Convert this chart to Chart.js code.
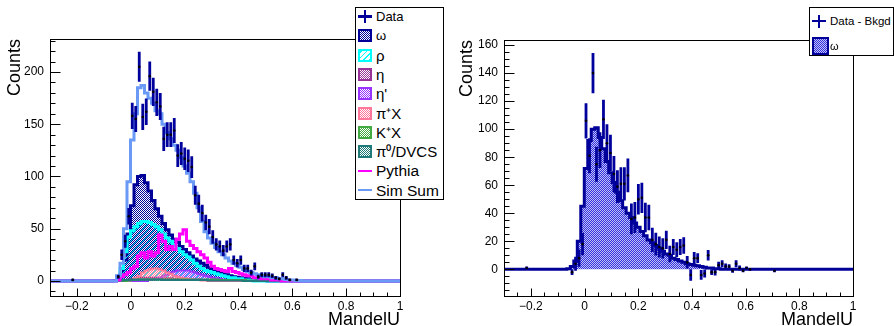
<!DOCTYPE html>
<html>
<head>
<meta charset="utf-8">
<title>MandelU</title>
<script src="https://cdn.jsdelivr.net/npm/chart.js@4.4.1/dist/chart.umd.min.js"></script>
<style>
  body { margin: 0; background: #fff; font-family: 'Liberation Sans', Arial, sans-serif; }
  #wrap { position: relative; width: 894px; height: 326px; overflow: hidden; background: #fff; }
  #wrap canvas { position: absolute; top: 0; }
  #left-chart { left: 0; }
  #right-chart { left: 447px; }
  .legend { position: absolute; background: #fff; border: 1px solid #000; box-sizing: border-box; }
  .entry { position: absolute; left: 0; width: 100%; }
  .entry span { position: absolute; top: 0; white-space: nowrap; color: #000; }
  .sw { position: absolute; box-sizing: border-box; }
</style>
</head>
<body>
<div id="wrap">
  <canvas id="left-chart" width="447" height="326"></canvas>
  <canvas id="right-chart" width="447" height="326"></canvas>
  <div class="legend" id="left-legend" style="left:355px; top:7px; width:89px; height:193px;"></div>
  <div class="legend" id="right-legend" style="left:809px; top:7px; width:85px; height:49px;"></div>
</div>
<script>
// binning of MandelU: 100 bins from -0.3 to 1.0
const binLow = -0.3;
const binWidth = 0.013;

const xTickValues = [-0.2, 0, 0.2, 0.4, 0.6, 0.8, 1];
const leftYTicks = [0, 50, 100, 150, 200];
const rightYTicks = [0, 20, 40, 60, 80, 100, 120, 140, 160];

// left pad: data and simulated components (counts per bin)
const dataCounts = [
  null, null, null, null, null, null, 1, null, null, null,
  null, null, null, null, null, null, null, null, null, 4,
  25, 38, 62, 158, 155, 205, 157, 162, 196, 181,
  171, 167, 136, 140, 140, 144, 120, 122, 117, 115,
  109, 82, 74, 65, 56, 52, 42, 35, 33, 29,
  33, 35, 20, 17, 20, 12, 12, 8, 14, 4,
  6, 6, 6, 5, 3, 2, 6, 3, 1, null,
  1, null, null, null, null, null, null, null, null, null,
  null, null, null, null, null, null, null, null, null, null,
  null, null, null, null, null, null, null, null, null, null
];
const simSum = [
  0, 0, 0, 0, 0, 0, 0, 0, 0, 0,
  0, 0, 0, 0, 0, 0, 0, 0, 0, 5,
  17, 50, 95, 135, 160, 185, 187, 180, 175, 170,
  163, 160, 150, 142, 136, 130, 125, 118, 110, 103,
  95, 84, 70, 57, 47, 41, 36, 32, 28, 25,
  22, 19, 17, 15, 13, 11, 9, 8, 7, 6,
  5, 4, 4, 3, 3, 2, 2, 1.5, 1, 1,
  0.5, 0.5, 0, 0, 0, 0, 0, 0, 0, 0,
  0, 0, 0, 0, 0, 0, 0, 0, 0, 0,
  0, 0, 0, 0, 0, 0, 0, 0, 0, 0
];
const omega = [
  0, 0, 0, 0, 0, 0, 0, 0, 0, 0,
  0, 0, 0, 0, 0, 0, 0, 0, 0.5, 2,
  6, 20, 45, 72, 92, 100, 101, 94, 86, 77,
  69, 62, 55, 49, 44, 40, 37, 33, 30, 27,
  24, 21, 19, 17, 15, 13, 11, 10, 8, 7,
  6, 5, 4, 3.5, 3, 2.5, 2, 1.5, 1, 1,
  0.5, 0.5, 0, 0, 0, 0, 0, 0, 0, 0,
  0, 0, 0, 0, 0, 0, 0, 0, 0, 0,
  0, 0, 0, 0, 0, 0, 0, 0, 0, 0,
  0, 0, 0, 0, 0, 0, 0, 0, 0, 0
];
const rho = [
  0, 0, 0, 0, 0, 0, 0, 0, 0, 0,
  0, 0, 0, 0, 0, 0, 0, 0, 0, 3,
  12, 28, 42, 48, 52, 55, 57, 57, 56, 54,
  52, 49, 45, 41, 38, 34, 31, 28, 25, 23,
  20, 17, 14, 12, 10, 9, 8, 7, 6, 5,
  4, 3, 3, 2, 2, 1, 1, 0.5, 0, 0,
  0, 0, 0, 0, 0, 0, 0, 0, 0, 0,
  0, 0, 0, 0, 0, 0, 0, 0, 0, 0,
  0, 0, 0, 0, 0, 0, 0, 0, 0, 0,
  0, 0, 0, 0, 0, 0, 0, 0, 0, 0
];
const eta = [
  0, 0, 0, 0, 0, 0, 0, 0, 0, 0,
  0, 0, 0, 0, 0, 0, 0, 0, 0, 0,
  0.5, 1, 1.5, 2, 2.5, 3, 3, 3, 3, 3,
  3, 3, 2.5, 2.5, 2.5, 2, 2, 2, 2, 1.5,
  1.5, 1.5, 1.5, 1, 1, 1, 1, 1, 0.5, 0.5,
  0.5, 0, 0, 0, 0, 0, 0, 0, 0, 0,
  0, 0, 0, 0, 0, 0, 0, 0, 0, 0,
  0, 0, 0, 0, 0, 0, 0, 0, 0, 0,
  0, 0, 0, 0, 0, 0, 0, 0, 0, 0,
  0, 0, 0, 0, 0, 0, 0, 0, 0, 0
];
const etaPrime = [
  0, 0, 0, 0, 0, 0, 0, 0, 0, 0,
  0, 0, 0, 0, 0, 0, 0, 0, 0, 0,
  0, 0, 0, 0, 0, 0, 0, 0, 1, 1.5,
  2, 3, 5, 6, 8, 9, 10, 10, 10, 10,
  9, 8, 7, 6, 5, 4, 3, 2.5, 2, 1.5,
  1, 0.5, 0, 0, 0, 0, 0, 0, 0, 0,
  0, 0, 0, 0, 0, 0, 0, 0, 0, 0,
  0, 0, 0, 0, 0, 0, 0, 0, 0, 0,
  0, 0, 0, 0, 0, 0, 0, 0, 0, 0,
  0, 0, 0, 0, 0, 0, 0, 0, 0, 0
];
const piPlusX = [
  0, 0, 0, 0, 0, 0, 0, 0, 0, 0,
  0, 0, 0, 0, 0, 0, 0, 0, 0, 0,
  0, 0, 0.5, 1, 3, 5, 8, 10, 11, 12,
  12, 11, 10, 8, 7, 5, 4, 3, 2.5, 2,
  1.5, 1, 1, 0.5, 0.5, 0, 0, 0, 0, 0,
  0, 0, 0, 0, 0, 0, 0, 0, 0, 0,
  0, 0, 0, 0, 0, 0, 0, 0, 0, 0,
  0, 0, 0, 0, 0, 0, 0, 0, 0, 0,
  0, 0, 0, 0, 0, 0, 0, 0, 0, 0,
  0, 0, 0, 0, 0, 0, 0, 0, 0, 0
];
const kPlusX = [
  0, 0, 0, 0, 0, 0, 0, 0, 0, 0,
  0, 0, 0, 0, 0, 0, 0, 0, 0, 0,
  0, 0, 0.5, 1, 1, 1.5, 1.5, 1.5, 1.5, 1.5,
  1.5, 1.5, 1.5, 1.5, 1.5, 1.5, 1.5, 1.5, 1.5, 1.5,
  1.5, 1.5, 1.5, 1.5, 1.5, 1.5, 1.5, 1.5, 1, 1,
  1, 1, 1, 1, 1, 1, 0.5, 0.5, 0.5, 0.5,
  0.5, 0, 0, 0, 0, 0, 0, 0, 0, 0,
  0, 0, 0, 0, 0, 0, 0, 0, 0, 0,
  0, 0, 0, 0, 0, 0, 0, 0, 0, 0,
  0, 0, 0, 0, 0, 0, 0, 0, 0, 0
];
const piZeroDvcs = [
  0, 0, 0, 0, 0, 0, 0, 0, 0, 0,
  0, 0, 0, 0, 0, 0, 0, 0, 0, 0,
  0.5, 1, 1, 1.5, 1.5, 1.5, 1.5, 1.5, 1.5, 1.5,
  1.5, 1.5, 1, 1, 1, 1, 1, 1, 1, 1,
  1, 1, 1, 1, 1, 0.5, 0.5, 0.5, 0.5, 0.5,
  0.5, 0.5, 0.5, 0.5, 0.5, 0, 0, 0, 0, 0,
  0, 0, 0, 0, 0, 0, 0, 0, 0, 0,
  0, 0, 0, 0, 0, 0, 0, 0, 0, 0,
  0, 0, 0, 0, 0, 0, 0, 0, 0, 0,
  0, 0, 0, 0, 0, 0, 0, 0, 0, 0
];
const pythia = [
  0, 0, 0, 0, 0, 0, 0, 0, 0, 0,
  0, 0, 0, 0, 0, 0, 0, 0, 0, 1,
  4, 6, 8, 12, 14, 24, 27, 22, 28, 24,
  27, 44, 38, 30, 33, 30, 40, 45, 49, 38,
  34, 31, 28, 25, 22, 18, 14, 12, 11, 10,
  9, 12, 9, 8, 7, 6, 5, 5, 3, 3,
  2, 2, 2, 1, 1, 1, 0, 0, 0, 0,
  0, 0, 0, 0, 0, 0, 0, 0, 0, 0,
  0, 0, 0, 0, 0, 0, 0, 0, 0, 0,
  0, 0, 0, 0, 0, 0, 0, 0, 0, 0
];

// right pad: data minus background
const subtracted = [
  null, null, null, null, null, null, 1, null, null, null,
  null, null, null, null, null, null, null, null, null, -2,
  4, 8, 18, 106, 81, 140, 75, 85, 107, 90,
  83, 68, 59, 61, 61, 67, 36, 37, 50, 51,
  37, 37, 21, 18, 16, 15, 21, 11, 16, 14,
  16, 17, 5, -4, 8, 8, -4, -3, 10, -2,
  -2, 3, 4, 2, 2, -1, 4, 1, -1, 1,
  0, null, null, null, null, null, null, -1, null, null,
  null, null, null, null, null, null, null, null, null, null,
  null, null, null, null, null, null, null, null, null, null
];

const navy = '#000099';
const colors = {
  omega: navy,
  rho: '#00ffff',
  eta: '#993399',
  etaPrime: '#9933ff',
  piPlusX: '#ff7799',
  kPlusX: '#44aa44',
  piZero: '#207a7a',
  pythia: '#ff00ff',
  simSum: '#6a9af5'
};

function histPoints(values) {
  // left bin edges, plus closing edge, drawn with stepped 'before'
  const pts = values.map((v, i) => ({ x: binLow + i * binWidth, y: v }));
  pts.push({ x: binLow + values.length * binWidth, y: values[values.length - 1] });
  return pts;
}

function centerPoints(values) {
  return values.map((v, i) => ({ x: binLow + (i + 0.5) * binWidth, y: v }));
}

function checkerPattern(color, back) {
  const tile = document.createElement('canvas');
  tile.width = 2;
  tile.height = 2;
  const c = tile.getContext('2d');
  if (back) {
    c.fillStyle = back;
    c.fillRect(0, 0, 2, 2);
  }
  c.fillStyle = color;
  c.fillRect(0, 0, 1, 1);
  c.fillRect(1, 1, 1, 1);
  return c.createPattern(tile, 'repeat');
}

function hatchPattern(color) {
  const tile = document.createElement('canvas');
  tile.width = 6;
  tile.height = 6;
  const c = tile.getContext('2d');
  c.strokeStyle = color;
  c.lineWidth = 1;
  c.beginPath();
  c.moveTo(0, 6);
  c.lineTo(6, 0);
  c.moveTo(-1, 1);
  c.lineTo(1, -1);
  c.moveTo(5, 7);
  c.lineTo(7, 5);
  c.stroke();
  return c.createPattern(tile, 'repeat');
}

function histDataset(values, color, width, fill) {
  return {
    data: histPoints(values),
    borderColor: color,
    borderWidth: width,
    backgroundColor: fill || 'transparent',
    fill: fill ? 'origin' : false,
    stepped: 'before',
    pointRadius: 0,
    tension: 0
  };
}

function dataDataset(values, errors) {
  return {
    data: centerPoints(values),
    errors: errors,
    showLine: false,
    borderColor: '#00009c',
    pointRadius: 1.3,
    pointBorderWidth: 0,
    pointBackgroundColor: '#000'
  };
}

const errorBars = {
  id: 'errorBars',
  beforeDatasetDraw(chart, args) {
    const ds = chart.data.datasets[args.index];
    if (!ds.errors) return;
    const { ctx, chartArea: a, scales: { x, y } } = chart;
    ctx.save();
    ctx.beginPath();
    ctx.rect(a.left, a.top, a.right - a.left, a.bottom - a.top);
    ctx.clip();
    ctx.strokeStyle = ds.borderColor;
    ctx.lineWidth = 2.8;
    ctx.beginPath();
    ds.data.forEach((p, i) => {
      if (p.y === null) return;
      const e = ds.errors[i];
      const px = x.getPixelForValue(p.x);
      ctx.moveTo(px, y.getPixelForValue(p.y - e));
      ctx.lineTo(px, y.getPixelForValue(p.y + e));
    });
    ctx.stroke();
    ctx.restore();
  }
};

const frameTicks = {
  id: 'frameTicks',
  afterDatasetsDraw(chart, args, opts) {
    const { ctx, chartArea: a, scales: { x, y } } = chart;
    const l = Math.round(a.left) + 0.5, r = Math.round(a.right) + 0.5;
    const t = Math.round(a.top) + 0.5, b = Math.round(a.bottom) + 0.5;
    ctx.save();
    ctx.strokeStyle = '#000';
    ctx.lineWidth = 1;
    ctx.strokeRect(l, t, r - l, b - t);
    ctx.beginPath();
    for (let k = Math.ceil(x.min / opts.xMinor - 1e-6); k * opts.xMinor <= x.max + 1e-9; k++) {
      const px = Math.round(x.getPixelForValue(k * opts.xMinor)) + 0.5;
      ctx.moveTo(px, b);
      ctx.lineTo(px, b - 4);
    }
    x.ticks.forEach(tk => {
      const px = Math.round(x.getPixelForValue(tk.value)) + 0.5;
      ctx.moveTo(px, b);
      ctx.lineTo(px, b - 8);
    });
    for (let k = Math.ceil(y.min / opts.yMinor - 1e-6); k * opts.yMinor <= y.max + 1e-9; k++) {
      const py = Math.round(y.getPixelForValue(k * opts.yMinor)) + 0.5;
      ctx.moveTo(l, py);
      ctx.lineTo(l + 5, py);
    }
    y.ticks.forEach(tk => {
      const py = Math.round(y.getPixelForValue(tk.value)) + 0.5;
      ctx.moveTo(l, py);
      ctx.lineTo(l + 10, py);
    });
    ctx.stroke();
    ctx.restore();
  }
};

function formatX(v) {
  const r = Math.round(v * 10) / 10;
  return (r < 0 ? '\u2212' : '') + Math.abs(r);
}

function makeOptions(pad, yWidth, yMin, yMax, yTicks, yMinor) {
  return {
    responsive: false,
    animation: false,
    events: [],
    layout: { padding: pad },
    plugins: {
      legend: { display: false },
      tooltip: { enabled: false },
      frameTicks: { xMinor: 0.05, yMinor: yMinor }
    },
    scales: {
      x: {
        type: 'linear',
        min: -0.3,
        max: 1,
        afterBuildTicks: s => { s.ticks = xTickValues.map(v => ({ value: v })); },
        afterFit: s => { s.height = 30; },
        grid: { display: false, drawTicks: false },
        border: { display: false },
        ticks: {
          autoSkip: false,
          maxRotation: 0,
          padding: 3,
          color: '#000',
          font: { family: 'Liberation Sans', size: 12 },
          callback: v => formatX(v)
        },
        title: {
          display: true,
          text: 'MandelU',
          align: 'end',
          color: '#000',
          padding: { top: 0, bottom: -5 },
          font: { family: 'Liberation Sans', size: 18 }
        }
      },
      y: {
        type: 'linear',
        min: yMin,
        max: yMax,
        afterBuildTicks: s => { s.ticks = yTicks.map(v => ({ value: v })); },
        afterFit: s => { s.width = yWidth; },
        grid: { display: false, drawTicks: false },
        border: { display: false },
        ticks: {
          autoSkip: false,
          padding: 6,
          color: '#000',
          font: { family: 'Liberation Sans', size: 12 }
        },
        title: {
          display: true,
          text: 'Counts',
          align: 'end',
          color: '#000',
          padding: { top: 4, bottom: 0 },
          font: { family: 'Liberation Sans', size: 18 }
        }
      }
    }
  };
}

function drawLeft() {
  const ctx = document.getElementById('left-chart').getContext('2d');
  const errors = dataCounts.map(v => (v === null ? 0 : Math.sqrt(v)));
  new Chart(ctx, {
    type: 'line',
    data: {
      datasets: [
        dataDataset(dataCounts, errors),
        histDataset(simSum, colors.simSum, 3),
        histDataset(pythia, colors.pythia, 3),
        histDataset(piZeroDvcs, colors.piZero, 2, checkerPattern(colors.piZero)),
        histDataset(kPlusX, colors.kPlusX, 2, checkerPattern(colors.kPlusX)),
        histDataset(piPlusX, colors.piPlusX, 2, checkerPattern(colors.piPlusX)),
        histDataset(etaPrime, colors.etaPrime, 2, checkerPattern(colors.etaPrime)),
        histDataset(eta, colors.eta, 2, checkerPattern(colors.eta)),
        histDataset(rho, colors.rho, 3, hatchPattern(colors.rho)),
        histDataset(omega, colors.omega, 3, checkerPattern(colors.omega))
      ]
    },
    options: makeOptions({ top: 39, right: 47, left: 0, bottom: 0 }, 50, -14.4, 231.6, leftYTicks, 10),
    plugins: [errorBars, frameTicks]
  });
}

function drawRight() {
  const ctx = document.getElementById('right-chart').getContext('2d');
  const errors = subtracted.map((v, i) => (dataCounts[i] === null ? 1 : Math.sqrt(dataCounts[i])));
  new Chart(ctx, {
    type: 'line',
    data: {
      datasets: [
        dataDataset(subtracted, errors),
        histDataset(omega, navy, 3, checkerPattern('#3030e0', '#c4c4f4'))
      ]
    },
    options: makeOptions({ top: 40, right: 41, left: 5, bottom: 0 }, 52, -19, 163.6, rightYTicks, 5),
    plugins: [errorBars, frameTicks]
  });
}

// legend entries: kind is cross, box, hatch or line
const leftLegendEntries = [
  { label: 'Data', kind: 'cross', color: navy, size: 13 },
  { label: 'ω', kind: 'box', color: colors.omega, size: 13 },
  { label: 'ρ', kind: 'hatch', color: colors.rho, size: 15 },
  { label: 'η', kind: 'box', color: colors.eta, size: 15 },
  { label: "η'", kind: 'box', color: colors.etaPrime, size: 15 },
  { label: 'π⁺X', kind: 'box', color: colors.piPlusX, size: 15 },
  { label: 'K⁺X', kind: 'box', color: colors.kPlusX, size: 15 },
  { label: 'π⁰/DVCS', kind: 'box', color: colors.piZero, size: 15 },
  { label: 'Pythia', kind: 'line', color: colors.pythia, size: 15.5 },
  { label: 'Sim Sum', kind: 'line', color: colors.simSum, size: 15.5 }
];
const rightLegendEntries = [
  { label: 'Data - Bkgd', kind: 'cross', color: navy, size: 11.5 },
  { label: 'ω', kind: 'bigbox', color: navy, size: 11 }
];

function addSwatch(row, entry, h) {
  const mid = h / 2;
  const add = css => {
    const d = document.createElement('div');
    d.className = 'sw';
    d.style.cssText = css;
    row.appendChild(d);
  };
  if (entry.kind === 'cross') {
    add(`left:2px; top:${mid - 1.25}px; width:14px; height:2.5px; background:${entry.color};`);
    add(`left:7.75px; top:${mid - 6.5}px; width:2.5px; height:13px; background:${entry.color};`);
  } else if (entry.kind === 'line') {
    add(`left:2px; top:${mid - 1}px; width:14px; height:2px; background:${entry.color};`);
  } else if (entry.kind === 'hatch') {
    add(`left:2px; top:${mid - 6.5}px; width:14px; height:13px; border:2px solid ${entry.color};` +
      `background:repeating-linear-gradient(-45deg, ${entry.color} 0 1px, #fff 1px 4px);`);
  } else if (entry.kind === 'bigbox') {
    add(`left:2px; top:${mid - 9}px; width:17px; height:18px; border:2.5px solid ${entry.color};` +
      `background:repeating-conic-gradient(#3030e0 0 25%, #c4c4f4 0 50%) 0 0 / 2px 2px;`);
  } else {
    add(`left:2px; top:${mid - 6.5}px; width:14px; height:13px; border:2px solid ${entry.color};` +
      `background:repeating-conic-gradient(${entry.color} 0 25%, #fff 0 50%) 0 0 / 2px 2px;`);
  }
}

function buildLegend(id, entries, firstMid, step, h, textLeft) {
  const box = document.getElementById(id);
  entries.forEach((entry, i) => {
    const row = document.createElement('div');
    row.className = 'entry';
    row.style.top = (firstMid + i * step - h / 2) + 'px';
    row.style.height = h + 'px';
    addSwatch(row, entry, h);
    const span = document.createElement('span');
    span.textContent = entry.label;
    span.style.left = textLeft + 'px';
    span.style.fontSize = entry.size + 'px';
    span.style.lineHeight = h + 'px';
    row.appendChild(span);
    box.appendChild(row);
  });
}

document.addEventListener('DOMContentLoaded', () => {
  drawLeft();
  drawRight();
  buildLegend('left-legend', leftLegendEntries, 8.5, 19.3, 19, 20);
  buildLegend('right-legend', rightLegendEntries, 13, 24.5, 22, 20);
});
</script>
</body>
</html>
